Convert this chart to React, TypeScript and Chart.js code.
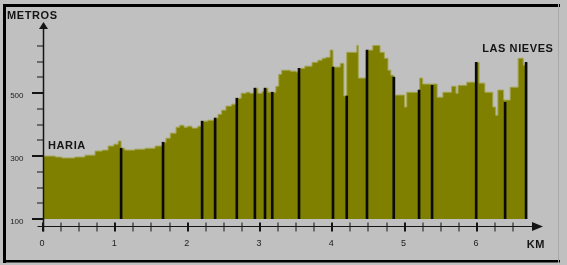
import { useEffect, useRef } from 'react';
import { Chart, registerables } from 'chart.js';

Chart.register(...registerables);

// Elevation profile (km from Haría, metres) – stepped segments start at each km value
const profileKm = [
  0.0, 0.17, 0.26, 0.44, 0.58, 0.72, 0.82, 0.9, 0.98, 1.04, 1.08, 1.13, 1.27, 1.41, 1.55,
  1.66, 1.7, 1.76, 1.84, 1.89, 1.95, 2.0, 2.06, 2.14, 2.2, 2.28, 2.38, 2.42, 2.47, 2.53,
  2.61, 2.68, 2.74, 2.81, 2.86, 2.93, 2.97, 3.03, 3.07, 3.11, 3.22, 3.26, 3.3, 3.42, 3.5,
  3.54, 3.62, 3.72, 3.8, 3.86, 3.91, 3.97, 4.01, 4.11, 4.16, 4.2, 4.34, 4.36, 4.48, 4.56,
  4.66, 4.72, 4.77, 4.81, 4.85, 4.87, 5.0, 5.03, 5.2, 5.21, 5.25, 5.45, 5.53, 5.65, 5.71,
  5.74, 5.86, 5.99, 6.03, 6.11, 6.22, 6.26, 6.29, 6.37, 6.46, 6.57, 6.64, 6.69,
];
const profileM = [
  300, 297, 294, 297, 303, 316, 319, 332, 338, 348, 325, 319, 322, 325, 332,
  344, 357, 373, 392, 398, 392, 395, 389, 395, 411, 414, 421, 433, 446, 459,
  465, 484, 500, 503, 500, 516, 500, 506, 516, 503, 522, 560, 573, 570, 567,
  579, 586, 598, 605, 611, 614, 637, 583, 595, 491, 630, 652, 548, 637, 652,
  630, 611, 573, 557, 551, 494, 456, 503, 510, 548, 529, 487, 503, 522, 500,
  525, 535, 598, 532, 503, 456, 430, 510, 478, 519, 611, 589, 589,
];

// Vertical marker lines (km, metres)
const markerKm = [1.08, 1.66, 2.2, 2.38, 2.68, 2.93, 3.07, 3.17, 3.54, 4.01, 4.2, 4.48, 4.85, 5.2, 5.38, 5.99, 6.39, 6.68];
const markerM = [325, 344, 411, 421, 484, 516, 516, 503, 579, 583, 491, 637, 551, 510, 525, 598, 471, 598];

// Axis ticks and labels
const yTickValues = [100, 150, 200, 250, 300, 350, 400, 450, 500, 550, 600, 650];
const yLabelValues = [100, 300, 500];
const xTickValues = [
  0, 0.25, 0.5, 0.75, 1, 1.25, 1.5, 1.75, 2, 2.25, 2.5, 2.75, 3, 3.25, 3.5, 3.75,
  4, 4.25, 4.5, 4.75, 5, 5.25, 5.5, 5.75, 6, 6.25, 6.5,
];
const xLabelValues = [0, 1, 2, 3, 4, 5, 6];

const yTitle = 'METROS';
const xTitle = 'KM';
const startName = 'HARIA';
const endName = 'LAS NIEVES';

const BG = '#c0c0c0';
const OLIVE = '#808000';
const INK = '#141414';

const decorPlugin = {
  id: 'profileDecor',
  beforeDraw(chart: any) {
    const { ctx, width, height } = chart;
    ctx.save();
    ctx.fillStyle = BG;
    ctx.fillRect(0, 0, width, height);
    // frame
    ctx.fillStyle = '#000';
    ctx.fillRect(3, 4, 557, 3);
    ctx.fillRect(3, 4, 3, 259);
    ctx.fillRect(3, 260, 557, 2.5);
    ctx.fillStyle = '#a8a8a8';
    ctx.fillRect(558, 4, 1, 259);
    ctx.restore();
  },
  afterDraw(chart: any) {
    const { ctx, chartArea } = chart;
    const xs = chart.scales.x;
    const ys = chart.scales.y;
    const ax = Math.round(xs.getPixelForValue(0)) + 0.5;
    const base = ys.getPixelForValue(100);
    const ay = Math.round(base + 7) + 0.5;
    ctx.save();
    ctx.strokeStyle = INK;
    ctx.fillStyle = INK;

    // Y axis line + arrow
    ctx.lineWidth = 1.5;
    ctx.beginPath();
    ctx.moveTo(ax, ay + 5);
    ctx.lineTo(ax, chartArea.top + 4);
    ctx.stroke();
    ctx.beginPath();
    ctx.moveTo(ax, chartArea.top - 2);
    ctx.lineTo(ax - 4.5, chartArea.top + 5);
    ctx.lineTo(ax + 4.5, chartArea.top + 5);
    ctx.closePath();
    ctx.fill();

    // Y ticks
    yTickValues.forEach((v) => {
      const py = Math.round(ys.getPixelForValue(v));
      const major = yLabelValues.includes(v);
      ctx.fillRect(ax - (major ? 11.5 : 6.5), py - (major ? 1 : 0.5), major ? 11.5 : 6.5, major ? 2 : 1);
    });

    // Y labels
    ctx.font = '8px "Liberation Sans", Arial, sans-serif';
    ctx.textAlign = 'right';
    ctx.textBaseline = 'middle';
    ctx.fillStyle = '#202020';
    yLabelValues.forEach((v) => {
      ctx.fillText(String(v), ax - 20, ys.getPixelForValue(v) + 3);
    });

    // X axis line + arrow
    ctx.fillStyle = INK;
    ctx.lineWidth = 1;
    const xEnd = xs.getPixelForValue(6.9);
    ctx.beginPath();
    ctx.moveTo(ax - 6, ay);
    ctx.lineTo(xEnd - 8, ay);
    ctx.stroke();
    ctx.beginPath();
    ctx.moveTo(xEnd + 1, ay);
    ctx.lineTo(xEnd - 10, ay - 4.5);
    ctx.lineTo(xEnd - 10, ay + 4.5);
    ctx.closePath();
    ctx.fill();

    // X ticks
    xTickValues.forEach((v) => {
      const px = Math.round(xs.getPixelForValue(v));
      const major = xLabelValues.includes(v);
      ctx.fillRect(px - (major ? 1 : 0.5), ay - 4, major ? 2 : 1, 9);
    });

    // X labels
    ctx.font = '9px "Liberation Sans", Arial, sans-serif';
    ctx.textAlign = 'center';
    ctx.fillStyle = '#202020';
    xLabelValues.forEach((v) => {
      ctx.fillText(String(v), xs.getPixelForValue(v) - 1, ay + 17);
    });

    // Titles and place names
    ctx.fillStyle = INK;
    ctx.font = 'bold 11px "Liberation Sans", Arial, sans-serif';
    ctx.textAlign = 'left';
    ctx.textBaseline = 'alphabetic';
    (ctx as any).letterSpacing = '0.6px';
    ctx.fillText(yTitle, 7, 19);
    ctx.fillText(startName, xs.getPixelForValue(0) + 5, ys.getPixelForValue(300) - 7);
    ctx.fillText(endName, xs.getPixelForValue(6.1) - 2, ys.getPixelForValue(650) + 6);
    ctx.fillText(xTitle, xs.getPixelForValue(6.69), ay + 21);
    ctx.restore();
  },
};

export default function App() {
  const canvasRef = useRef<HTMLCanvasElement | null>(null);

  useEffect(() => {
    document.body.style.margin = '0';
    const canvas = canvasRef.current;
    if (!canvas) return;
    const chart = new Chart(canvas, {
      type: 'line',
      data: {
        datasets: [
          {
            type: 'bar',
            data: markerKm.map((k, i) => ({ x: k, y: markerM[i] })),
            backgroundColor: '#0a0a0a',
            barThickness: 2,
            order: 0,
          } as any,
          {
            type: 'line',
            data: profileKm.map((k, i) => ({ x: k, y: profileM[i] })),
            stepped: 'before',
            fill: 'start',
            backgroundColor: OLIVE,
            borderColor: '#a4a450',
            borderWidth: 1,
            pointRadius: 0,
            tension: 0,
            order: 1,
          } as any,
        ],
      },
      options: {
        responsive: false,
        animation: false,
        events: [],
        layout: { padding: { left: 43, right: 25, top: 24, bottom: 46 } },
        plugins: { legend: { display: false }, tooltip: { enabled: false } },
        scales: {
          x: { type: 'linear', min: 0, max: 6.9, display: false, offset: false },
          y: { type: 'linear', min: 100, max: 720, display: false },
        },
      },
      plugins: [decorPlugin],
    });
    return () => chart.destroy();
  }, []);

  return (
    <div style={{ position: 'absolute', left: 0, top: 0, width: 567, height: 265 }}>
      <canvas ref={canvasRef} width={567} height={265} style={{ display: 'block', width: 567, height: 265 }} />
    </div>
  );
}
